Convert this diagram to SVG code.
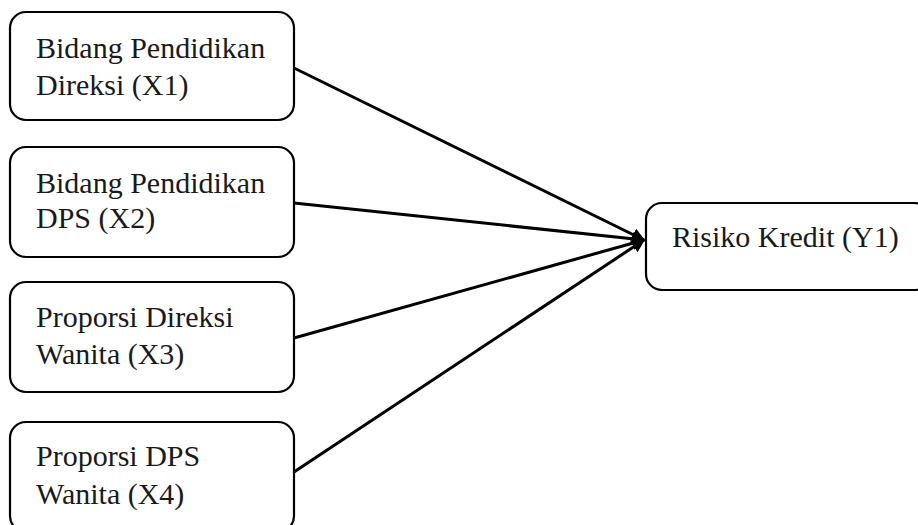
<svg xmlns="http://www.w3.org/2000/svg" width="918" height="525" viewBox="0 0 918 525">
<style>
.box{fill:#fff;stroke:#000;stroke-width:2.2}
.c{stroke:#000;stroke-width:3;fill:none;marker-end:url(#ah)}
</style>
<defs>
<marker id="ah" viewBox="0 0 10 10" refX="9" refY="5" markerWidth="4.5" markerHeight="4.5" orient="auto" markerUnits="strokeWidth">
<path d="M0,0 L10,5 L0,10 z" fill="#000"/>
</marker>
</defs>
<g id="connectors">
<line class="c" x1="294" y1="68" x2="644" y2="240"/>
<line class="c" x1="294" y1="203" x2="644" y2="240"/>
<line class="c" x1="294" y1="338" x2="644" y2="240"/>
<line class="c" x1="294" y1="472" x2="644" y2="240"/>
</g>
<g font-family="Liberation Serif, DejaVu Serif, serif" font-size="30" fill="#1a1a1a">
<g id="x1">
<rect class="box" x="10" y="12" width="284" height="108" rx="16"/>
<text x="36" y="58">Bidang Pendidikan</text>
<text x="36" y="95">Direksi (X1)</text>
</g>
<g id="x2">
<rect class="box" x="10" y="147" width="284" height="110" rx="16"/>
<text x="36" y="193">Bidang Pendidikan</text>
<text x="36" y="228">DPS (X2)</text>
</g>
<g id="x3">
<rect class="box" x="10" y="282" width="284" height="110" rx="16"/>
<text x="36" y="327">Proporsi Direksi</text>
<text x="36" y="364">Wanita (X3)</text>
</g>
<g id="x4">
<rect class="box" x="10" y="422" width="284" height="110" rx="16"/>
<text x="36" y="466">Proporsi DPS</text>
<text x="36" y="504">Wanita (X4)</text>
</g>
<g id="y1">
<rect class="box" x="646" y="203" width="284" height="87" rx="16"/>
<text x="672" y="247">Risiko Kredit (Y1)</text>
</g>
</g>
</svg>
